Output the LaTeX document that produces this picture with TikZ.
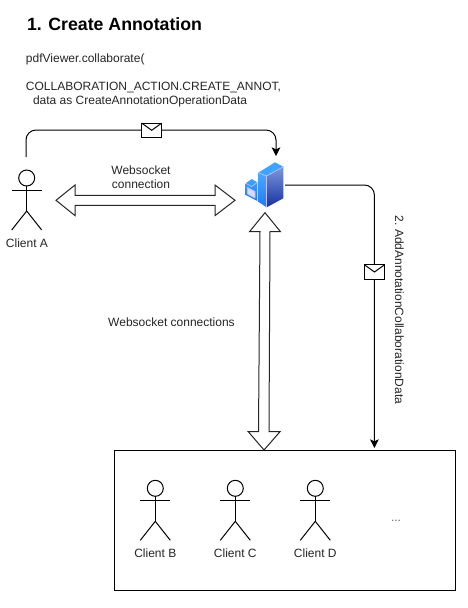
\documentclass[tikz,border=0pt]{standalone}
\usepackage{fontspec}
\setmainfont{Liberation Sans}
\usetikzlibrary{arrows.meta,calc}
\definecolor{towerTop}{HTML}{3FA4FF}
\definecolor{faceLa}{HTML}{4FA8FF}
\definecolor{faceLb}{HTML}{1C7BF0}
\definecolor{faceRa}{HTML}{7C98DC}
\definecolor{faceRb}{HTML}{16309E}
\tikzset{
  x=0.75pt,y=-0.75pt,
  every node/.style={inner sep=0pt,outer sep=0pt,text=black!85},
  line/.style={draw=black,line width=0.75pt},
  flow/.style={line,rounded corners=7.5pt,-{Stealth[length=6.5pt,width=6.5pt,inset=1.5pt]}},
  fat/.style={draw=black!85,line width=0.75pt,fill=white,line join=miter},
  envelope/.style={draw=black,line width=0.75pt,fill=white,rectangle,minimum width=15pt,minimum height=10.8pt},
  actorhead/.style={circle,draw=black,line width=0.75pt,minimum size=12pt,fill=white},
  label/.style={font=\fontsize{9}{10.5}\selectfont,align=center},
  txt/.style={font=\fontsize{9}{10.5}\selectfont,anchor=west},
  iconedge/.style={draw=white!75!blue,line width=0.5pt,line join=round},
}
\newcommand{\actorfig}[3]{%
  \node[actorhead] (#3) at (#1,#2) {};
  \draw[line] (#3.south) -- ($(#3)+(0,33)$);
  \draw[line] ($(#3)+(-15,12)$) -- ($(#3)+(15,12)$);
  \draw[line] ($(#3)+(-15,52)$) -- ($(#3)+(0,33)$) -- ($(#3)+(15,52)$);
}
\newcommand{\envflap}[1]{%
  \draw[line] (#1.north west) -- (#1.center) -- (#1.north east);
}
\begin{document}
\begin{tikzpicture}
\useasboundingbox[fill=white] (0,0) rectangle (468,608);

% texts at top
\node[font=\bfseries\fontsize{13.3}{16}\selectfont,anchor=west,text=black] (title) at (27,24) {1. Create Annotation};
\node[txt] (t1) at (26,59) {pdfViewer.collaborate(};
\node[txt] (t2) at (26,87) {COLLABORATION\_ACTION.CREATE\_ANNOT,};
\node[txt] (t3) at (33,101) {data as CreateAnnotationOperationData};

% server icon
\node[minimum width=30pt,minimum height=34.5pt] (srv) at (264.5,185) {};
\shade[top color=towerTop,bottom color=faceLb] (245.7,183.3) -- (251.7,179) -- (257.3,182.3) -- (257.3,201) -- (245.7,195) -- cycle;
\draw[iconedge] (245.7,183.3) -- (251.7,186.5) -- (257.3,182.3);
\draw[iconedge,fill=white!85!blue] (247.5,187.5) -- (255,191.5) -- (255,198) -- (247.5,194) -- cycle;
\shade[top color=faceLa,bottom color=faceLb] (258.3,172.7) -- (266.7,176) -- (266.7,207.3) -- (258.3,201.7) -- cycle;
\shade[top color=faceRa,bottom color=faceRb] (266.7,176) -- (283.3,166.7) -- (283.3,198.3) -- (266.7,207.3) -- cycle;
\fill[towerTop] (258.3,172.7) -- (275,162.3) -- (283.3,166.7) -- (266.7,176) -- cycle;
\draw[iconedge] (258.3,172.7) -- (266.7,176) -- (283.3,166.7);
\draw[iconedge] (266.7,176) -- (266.7,207.3);

% clients
\actorfig{26.7}{178}{ca}
\node[label,anchor=center] (cal) at (27,243) {Client A};

\node[draw=black,line width=0.75pt,minimum width=255.75pt,minimum height=105pt] (grp) at (284.8,520.3) {};
\actorfig{155.3}{488.3}{cb}
\actorfig{235.3}{488.3}{cc}
\actorfig{315.3}{488.3}{cd}
\node[label] (cbl) at (155.3,553.5) {Client B};
\node[label] (ccl) at (235.3,553.5) {Client C};
\node[label] (cdl) at (315.3,553.5) {Client D};
\node[text=black!60,font=\fontsize{9}{10}\selectfont,anchor=base] (dots) at (396,521) {...};

% flows
\coordinate (caout) at (26,157);
\coordinate (srvin) at (276,156);
\draw[flow] (caout) |- (srvin |- 0,130) -- (srvin);
\node[envelope] (env1) at (151.7,130.3) {};
\envflap{env1}

\coordinate (srvout) at (285,185);
\coordinate (grpin) at (374.4,448);
\draw[flow] (srvout) -| (grpin);
\node[envelope] (env2) at (374.5,272) {};
\envflap{env2}

% fat double arrows
\coordinate (hl) at (56,200.3);
\coordinate (hr) at (235,200.3);
\draw[fat] (hl) -- ($(hl)+(19,-15.3)$) -- ($(hl)+(19,-5)$) -- ($(hr)+(-20,-5)$) -- ($(hr)+(-20,-15.3)$)
  -- (hr) -- ($(hr)+(-20,15.3)$) -- ($(hr)+(-20,5)$) -- ($(hl)+(19,5)$) -- ($(hl)+(19,15.3)$) -- cycle;
\coordinate (vt) at (265,212.7);
\coordinate (vb) at (264,450);
\draw[fat] (vt) -- ($(vt)+(15.5,19)$) -- ($(vt)+(5,19)$) -- ($(vb)+(5,-18.3)$) -- ($(vb)+(16,-18.3)$)
  -- (vb) -- ($(vb)+(-15.7,-18.3)$) -- ($(vb)+(-5.5,-18.3)$) -- ($(vt)+(-5,19)$) -- ($(vt)+(-15.5,19)$) -- cycle;

% labels
\node[label] (ws1) at (141,177) {Websocket\\connection};
\node[label] (ws2) at (171.5,322) {Websocket connections};
\node[label,rotate=-90] (add) at (399.5,310) {2.~AddAnnotationCollaborationData};
\end{tikzpicture}
\end{document}
